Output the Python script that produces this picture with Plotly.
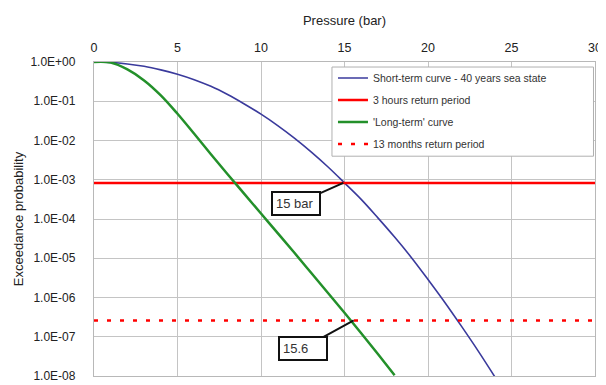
import math
import plotly.graph_objects as go

# Short-term curve (40 years sea state): pressure (bar) vs exceedance probability
short_p = [0, 1, 2, 3, 4, 5, 6, 7, 8, 9, 10, 11, 12, 13, 14, 15, 16, 17, 18, 19, 20, 21, 22, 23, 24]
short_prob = [1.0, 0.977, 0.891, 0.776, 0.631, 0.490, 0.355, 0.240, 0.148, 0.0851, 0.0468, 0.0240,
              0.0115, 0.00513, 0.00214, 8.32e-4, 3.16e-4, 1.07e-4, 3.47e-5, 1.05e-5, 2.88e-6,
              7.59e-7, 1.86e-7, 4.37e-8, 9.55e-9]

# 'Long-term' curve
long_p = [0, 1, 2, 3, 4, 5, 6, 7, 8, 9, 10, 11, 12, 13, 14, 15, 16, 17, 18]
long_prob = [1.0, 0.966, 0.646, 0.339, 0.141, 0.0479, 0.0148, 0.00447, 0.00138, 4.37e-4, 1.38e-4,
             4.37e-5, 1.38e-5, 4.27e-6, 1.32e-6, 4.07e-7, 1.23e-7, 3.63e-8, 1.05e-8]

# return period levels
range_p = [0, 30]
level_3h = [8.3e-4, 8.3e-4]
level_13m = [2.6e-7, 2.6e-7]

# annotated design values
ann_labels = ["15 bar", "15.6"]
ann_p = [14.93, 15.55]
ann_prob = [8.3e-4, 2.6e-7]

series_names = ["Short-term curve - 40 years sea state", "3 hours return period",
                "'Long-term' curve", "13 months return period"]

y_tickvals = [1e0, 1e-1, 1e-2, 1e-3, 1e-4, 1e-5, 1e-6, 1e-7, 1e-8]
y_ticktext = ["1.0E+00", "1.0E-01", "1.0E-02", "1.0E-03", "1.0E-04", "1.0E-05", "1.0E-06", "1.0E-07", "1.0E-08"]

FONT = "Liberation Sans"

fig = go.Figure()
fig.add_trace(go.Scatter(x=short_p, y=short_prob, mode="lines", name=series_names[0],
                         line=dict(color="#3a3a9c", width=1.6, shape="spline", smoothing=1.0), legendgroup="a"))
fig.add_trace(go.Scatter(x=range_p, y=level_3h, mode="lines", name=series_names[1],
                         line=dict(color="#ff0000", width=2.5), legendgroup="b"))
fig.add_trace(go.Scatter(x=long_p, y=long_prob, mode="lines", name=series_names[2],
                         line=dict(color="#23902a", width=2.5, shape="spline", smoothing=1.0), legendgroup="c"))
fig.add_trace(go.Scatter(x=range_p, y=level_13m, mode="lines", name=series_names[3],
                         line=dict(color="#ff0000", width=2.5, dash="4px,9px"), legendgroup="d"))

offsets = [(-47, 21), (-51, 28)]
for lab, px, pr, (ax, ay) in zip(ann_labels, ann_p, ann_prob, offsets):
    fig.add_annotation(x=px, y=math.log10(pr), text=lab, showarrow=True, arrowhead=0, arrowwidth=2,
                       arrowcolor="#111111", ax=ax, ay=ay, bordercolor="#111111", borderwidth=2,
                       borderpad=3, bgcolor="white", width=40, align="left",
                       font=dict(family=FONT, size=13, color="#333333"))

# legend frame (wider than the entries, as in the reference)
fig.add_shape(type="rect", xref="paper", yref="paper", x0=0.475, x1=0.997, y0=0.70, y1=0.984,
              line=dict(color="#b0b0b0", width=1), fillcolor="white", layer="above")

# page body has an 8px default margin, so the figure is 8px smaller on each axis
fig.update_layout(
    width=598, height=377,
    margin=dict(l=86, r=11, t=54, b=9),
    paper_bgcolor="white", plot_bgcolor="white",
    font=dict(family=FONT, size=12, color="#222222"),
    showlegend=True,
    legend=dict(x=0.477, y=0.995, xanchor="left", yanchor="top", bgcolor="rgba(0,0,0,0)",
                borderwidth=0, tracegroupgap=3,
                font=dict(family=FONT, size=10.5, color="#333333")),
    xaxis=dict(range=[0, 30], dtick=5, side="top", showgrid=True, gridcolor="#c4c4c4", gridwidth=1.3,
               showline=True, mirror=True, linecolor="#b8b8b8", linewidth=1.3, zeroline=False,
               ticks="", ticklabelstandoff=4, automargin=False, tickfont=dict(size=12.5),
               title=dict(text="Pressure (bar)", standoff=12, font=dict(size=13))),
    yaxis=dict(type="log", range=[-8, 0], tickvals=y_tickvals, ticktext=y_ticktext,
               showgrid=True, gridcolor="#c4c4c4", gridwidth=1.3,
               showline=True, mirror=True, linecolor="#b8b8b8", linewidth=1.3, zeroline=False,
               ticks="", ticklabelstandoff=15, automargin=False, tickfont=dict(size=12),
               title=dict(text="Exceedance probability", standoff=3, font=dict(size=13))),
)

fig.write_html("out.html")
